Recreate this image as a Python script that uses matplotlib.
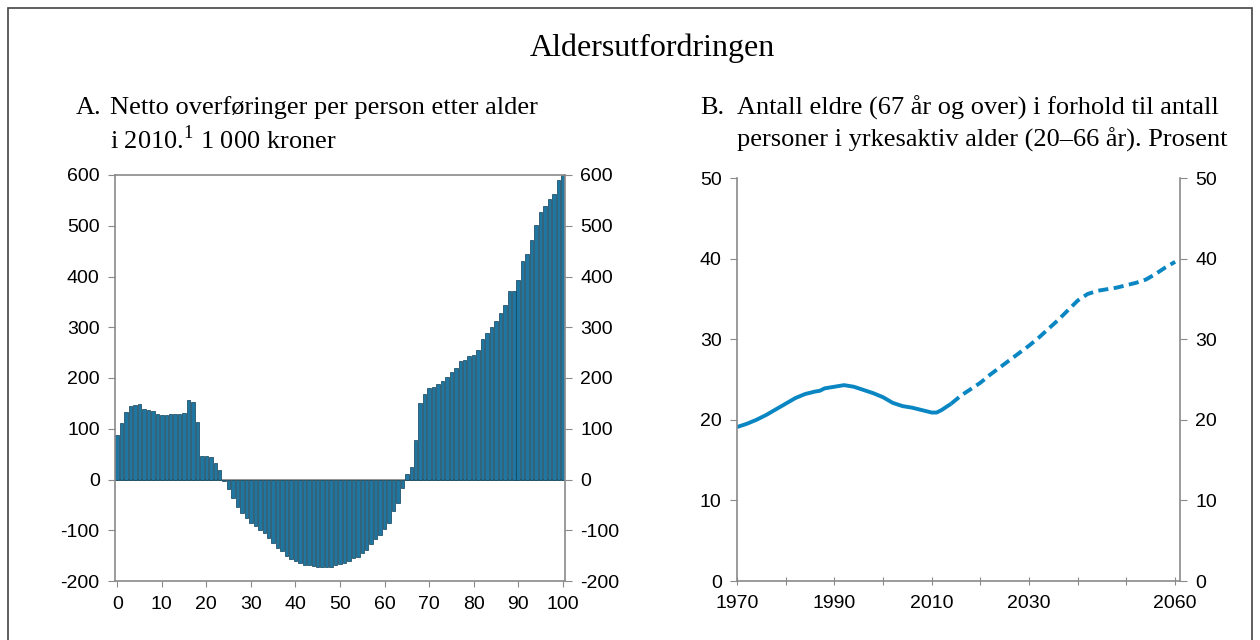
import matplotlib
matplotlib.use("Agg")
import matplotlib.pyplot as plt
from matplotlib.patches import Rectangle

plt.rcParams['font.family'] = ['Liberation Sans', 'DejaVu Sans']
plt.rcParams['mathtext.fontset'] = 'custom'
plt.rcParams['mathtext.rm'] = 'Liberation Serif'
plt.rcParams['axes.unicode_minus'] = False

# Panel A: net transfers per person by age, 2010 (1 000 NOK)
ages = list(range(0, 101))
transfers = [87, 112, 133, 144, 147, 149, 139, 136, 134, 130,
             127, 128, 130, 130, 130, 131, 156, 153, 114, 47,
             47, 45, 33, 18, -2, -18, -36, -55, -66, -76,
             -85, -91, -99, -106, -116, -126, -135, -141, -150, -156,
             -161, -164, -168, -169, -170, -172, -172, -172, -172, -169,
             -166, -164, -161, -154, -152, -145, -138, -128, -118, -110,
             -97, -85, -62, -46, -16, 10, 24, 77, 150, 168,
             180, 182, 188, 195, 201, 212, 220, 234, 236, 244,
             246, 256, 277, 289, 300, 313, 328, 344, 372, 372,
             393, 430, 445, 472, 502, 528, 538, 552, 562, 590,
             600]

# Panel B: elderly (67+) relative to working age (20-66), percent
years_hist = [1970, 1972, 1974, 1976, 1978, 1980, 1982, 1984, 1986, 1987,
              1988, 1990, 1992, 1994, 1996, 1998, 2000, 2002, 2004, 2006,
              2008, 2010, 2011, 2012, 2014]
ratio_hist = [19.1, 19.5, 20.0, 20.6, 21.3, 22.0, 22.7, 23.2, 23.5, 23.6,
              23.9, 24.1, 24.3, 24.1, 23.7, 23.3, 22.8, 22.1, 21.7, 21.5,
              21.2, 20.9, 20.9, 21.2, 22.0]
years_proj = [2014, 2016, 2018, 2020, 2022, 2024, 2026, 2028, 2030, 2032,
              2034, 2036, 2038, 2040, 2042, 2044, 2046, 2048, 2050, 2052,
              2054, 2056, 2058, 2060]
ratio_proj = [22.0, 23.0, 23.8, 24.6, 25.6, 26.5, 27.4, 28.3, 29.2, 30.2,
              31.3, 32.4, 33.6, 34.8, 35.6, 36.0, 36.2, 36.4, 36.7, 37.0,
              37.4, 38.1, 38.9, 39.6]

year_ticks = list(range(1970, 2061, 10))
year_labels = ['1970', '', '1990', '', '2010', '', '2030', '', '', '2060']

serif = ['Liberation Serif', 'DejaVu Serif']
gray = '#8a8a8a'
blue = '#0a86c2'

fig = plt.figure(figsize=(12.6, 6.4), dpi=100)

# frame round the figure
fig.patches.append(Rectangle((8 / 1260, -0.01), 1244 / 1260, 1 - 8 / 640 + 0.01,
                             transform=fig.transFigure, fill=False,
                             edgecolor='#444444', linewidth=1.2))

fig.text(652 / 1260, 1 - 48 / 640, 'Aldersutfordringen', family=serif,
         fontsize=23, ha='center', va='center')

# --- panel A ---
ax1 = fig.add_axes([115 / 1260, 1 - 581 / 640, 450 / 1260, 406 / 640])
ax1.axhline(0, color=gray, linewidth=1.3, zorder=1)
ax1.bar(ages, transfers, width=0.78, color='#1f76a0', edgecolor='#0d3f58',
        linewidth=0.5, zorder=2)
ax1.set_xlim(-0.5, 100.5)
ax1.set_ylim(-200, 600)
ax1.set_xticks(range(0, 101, 10))
ax1.set_yticks(range(-200, 601, 100))
ax1.tick_params(axis='y', which='both', left=True, right=True,
                labelleft=True, labelright=True, direction='out',
                length=5, color=gray, labelsize=14, pad=6)
ax1.tick_params(axis='x', direction='out', length=4, color=gray,
                labelsize=14, pad=7)
for s in ax1.spines.values():
    s.set_color(gray)
    s.set_linewidth(1.2)

fig.text(76 / 1260, 1 - 108 / 640, 'A.', family=serif, fontsize=19,
         va='center')
fig.text(110 / 1260, 1 - 108 / 640, 'Netto overføringer per person etter alder',
         family=serif, fontsize=19, va='center')
fig.text(110 / 1260, 1 - 140 / 640, 'i 2010.$^{1}$ 1 000 kroner',
         family=serif, fontsize=19, va='center')

# --- panel B ---
ax2 = fig.add_axes([737 / 1260, 1 - 581 / 640, 443 / 1260, 403 / 640])
ax2.plot(years_hist, ratio_hist, color=blue, linewidth=2.8,
         solid_capstyle='butt', solid_joinstyle='round')
ax2.plot(years_proj, ratio_proj, color=blue, linewidth=2.8,
         dashes=(2.6, 1.4), dash_capstyle='butt', dash_joinstyle='round')
ax2.set_xlim(1970, 2061)
ax2.set_ylim(0, 50)
ax2.set_xticks(year_ticks)
ax2.set_xticklabels(year_labels)
ax2.set_yticks(range(0, 51, 10))
ax2.spines['top'].set_visible(False)
ax2.tick_params(axis='y', left=True, right=True, labelleft=True,
                labelright=True, direction='out', length=5, color=gray,
                labelsize=14, pad=6)
ax2.tick_params(axis='x', direction='inout', length=6, color=gray,
                labelsize=14, pad=7)
for s in ax2.spines.values():
    s.set_color(gray)
    s.set_linewidth(1.2)

fig.text(700 / 1260, 1 - 108 / 640, 'B.', family=serif, fontsize=19,
         va='center')
fig.text(737 / 1260, 1 - 108 / 640,
         'Antall eldre (67 år og over) i forhold til antall',
         family=serif, fontsize=19, va='center')
fig.text(737 / 1260, 1 - 140 / 640,
         'personer i yrkesaktiv alder (20–66 år). Prosent',
         family=serif, fontsize=19, va='center')

fig.savefig('out.png', dpi=100)
